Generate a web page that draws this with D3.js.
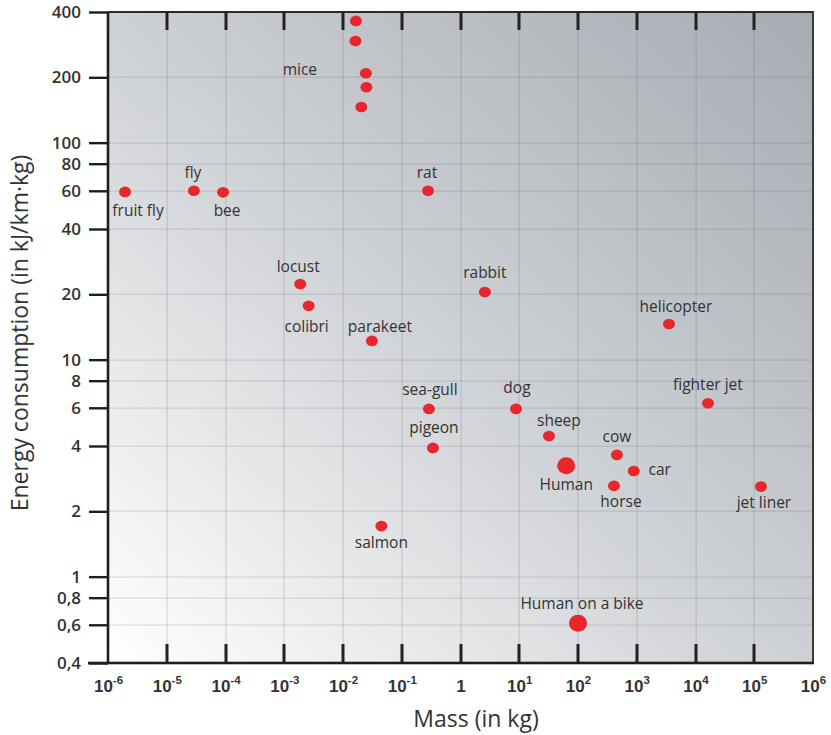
<!DOCTYPE html>
<html>
<head>
<meta charset="utf-8">
<script src="https://cdn.jsdelivr.net/npm/d3@7"></script>
<style>
  html, body { margin: 0; padding: 0; background: #ffffff; }
  svg { display: block; font-family: "Open Sans", "DejaVu Sans", sans-serif; }
</style>
</head>
<body>
<svg id="chart" width="831" height="735"></svg>
<script>
// ---------------- DATA ----------------
const names = [
  "mice", "mice", "mice", "mice", "mice",
  "fruit fly", "fly", "bee", "locust", "colibri", "parakeet",
  "rat", "rabbit", "helicopter", "sea-gull", "pigeon", "dog",
  "sheep", "Human", "cow", "car", "horse", "jet liner",
  "fighter jet", "salmon", "Human on a bike"
];
const massKg = [
  0.0166, 0.0163, 0.0245, 0.0250, 0.0205,
  1.95e-6, 2.9e-5, 9.1e-5, 1.87e-3, 2.6e-3, 0.031,
  0.28, 2.6, 3540, 0.29, 0.34, 8.8,
  32, 63, 460, 890, 410, 1.3e5,
  16300, 0.045, 100
];
const energy = [
  364, 294, 209, 180, 146,
  59.3, 60, 59, 22.3, 17.7, 12.2,
  60, 20.5, 14.6, 5.93, 3.92, 5.93,
  4.45, 3.24, 3.64, 3.07, 2.62, 2.60,
  6.3, 1.71, 0.61
];
const yTickValues = [0.4, 0.6, 0.8, 1, 2, 4, 6, 8, 10, 20, 40, 60, 80, 100, 200, 400];
const xTickValues = [1e-6, 1e-5, 1e-4, 1e-3, 1e-2, 1e-1, 1, 1e1, 1e2, 1e3, 1e4, 1e5, 1e6];
const xExponents = [-6, -5, -4, -3, -2, -1, 0, 1, 2, 3, 4, 5, 6];
const xLabel = "Mass (in kg)";
const yLabel = "Energy consumption (in kJ/km\u00B7kg)";

// ---------------- LAYOUT (not data) ----------------
// label offsets: [point index, dx (center), dy (baseline)]
const labelLayout = [
  [2, -66, 2],
  [5, 13, 24], [6, -1, -13], [7, 4, 24], [8, -2, -12], [9, -2, 26], [10, 8, -9],
  [11, -1, -13], [12, 0, -14], [13, 7, -12], [14, 1, -14], [15, 1, -15], [16, 1, -16],
  [17, 10, -10], [18, 0, 24], [19, 0, -13], [20, 26, 4], [21, 7, 21], [22, 3, 21],
  [23, 0, -13], [24, 0, 22], [25, 4, -14]
];
const bigPoints = new Set(["Human", "Human on a bike"]);

const M = { left: 108, right: 813, top: 12, bottom: 663 };
const svg = d3.select("#chart");

const x = d3.scaleLog().domain([1e-6, 1e6]).range([M.left, M.right]);
const y = d3.scaleLog().domain([0.4, 400]).range([M.bottom, M.top]);

// background gradient
const defs = svg.append("defs");
const grad = defs.append("linearGradient").attr("id", "bg")
  .attr("x1", 0).attr("y1", 1).attr("x2", 1).attr("y2", 0);
grad.append("stop").attr("offset", 0).attr("stop-color", "#ffffff");
grad.append("stop").attr("offset", 0.5).attr("stop-color", "#cdd0d4");
grad.append("stop").attr("offset", 1).attr("stop-color", "#a7acb3");

svg.append("rect")
  .attr("x", M.left).attr("y", M.top)
  .attr("width", M.right - M.left).attr("height", M.bottom - M.top)
  .attr("fill", "url(#bg)");

// grid (horizontal)
svg.append("g").selectAll("rect").data(yTickValues).join("rect")
  .attr("x", M.left).attr("width", M.right - M.left)
  .attr("y", d => Math.round(y(d)) - 0.5).attr("height", 1.2)
  .attr("fill", "rgba(80,85,95,0.17)");
// grid (vertical)
svg.append("g").selectAll("rect").data(xTickValues).join("rect")
  .attr("y", M.top).attr("height", M.bottom - M.top)
  .attr("x", d => Math.round(x(d)) - 0.5).attr("width", 1.2)
  .attr("fill", "rgba(80,85,95,0.2)");

// frame top/right
svg.append("rect").attr("x", M.left).attr("y", M.top - 1).attr("width", M.right - M.left + 1).attr("height", 2)
  .attr("fill", "#2a2a2a");
svg.append("rect").attr("x", M.right - 1).attr("y", M.top - 1).attr("width", 2).attr("height", M.bottom - M.top + 1)
  .attr("fill", "#3a3a3a");

// x tick labels with superscripts
const xl = svg.append("g").attr("transform", `translate(0,${M.bottom})`)
  .call(d3.axisBottom(x).tickValues(xTickValues).tickSize(0).tickFormat(() => ""));
xl.select(".domain").remove();
xl.selectAll(".tick").each(function(d, i) {
  const e = xExponents[i];
  const t = d3.select(this).append("text")
    .attr("y", 29).attr("text-anchor", "middle")
    .attr("fill", "#333").attr("font-size", 17).attr("font-weight", 600);
  if (e === 0) {
    t.text("1");
  } else {
    t.append("tspan").text("10");
    t.append("tspan").attr("dy", -8).attr("font-size", 11.5).text(String(e));
  }
});

// y axis
const yAxis = svg.append("g").attr("transform", `translate(${M.left},0)`)
  .call(d3.axisLeft(y).tickValues(yTickValues).tickSize(19).tickPadding(8)
    .tickFormat(d => String(d).replace(".", ",")));
yAxis.select(".domain").attr("stroke", "#1e1e1e").attr("stroke-width", 2.6)
  .attr("d", `M0,${M.top}V${M.bottom}`);
yAxis.selectAll(".tick line").attr("stroke", "#1e1e1e").attr("stroke-width", 2.4);
yAxis.selectAll(".tick text").attr("fill", "#333").attr("font-size", 17).attr("font-weight", 600)
  .attr("font-family", "'Open Sans', sans-serif");

// bottom axis line
svg.append("rect").attr("x", M.left - 20).attr("y", M.bottom - 1.3).attr("width", M.right - M.left + 21).attr("height", 2.6)
  .attr("fill", "#1e1e1e");

// points
svg.append("g").selectAll("ellipse").data(names).join("ellipse")
  .attr("cx", (d, i) => x(massKg[i]))
  .attr("cy", (d, i) => y(energy[i]))
  .attr("rx", d => bigPoints.has(d) ? 9 : 6)
  .attr("ry", d => bigPoints.has(d) ? 8.5 : 5.3)
  .attr("fill", "#e8262b");

// labels
svg.append("g").selectAll("text").data(labelLayout).join("text")
  .attr("x", d => x(massKg[d[0]]) + d[1])
  .attr("y", d => y(energy[d[0]]) + d[2])
  .attr("text-anchor", "middle")
  .attr("font-size", 15.5)
  .attr("fill", "#333")
  .text(d => names[d[0]]);

// axis titles
svg.append("text").attr("x", 476).attr("y", 727).attr("text-anchor", "middle")
  .attr("font-size", 23).attr("fill", "#333").text(xLabel);
svg.append("text").attr("transform", "translate(28,333) rotate(-90)").attr("text-anchor", "middle")
  .attr("font-size", 23).attr("fill", "#333").text(yLabel);

// inner ticks (top & bottom), positioned by the x scale, drawn last
const innerTicks = xTickValues.slice(1, -1);
const tg = svg.append("g");
innerTicks.forEach(v => {
  const px = Math.round(x(v));
  tg.append("line").attr("x1", px).attr("x2", px).attr("y1", M.top).attr("y2", M.top + 18)
    .attr("stroke", "#222222").attr("stroke-width", 3);
  tg.append("rect").attr("x", px - 1.5).attr("width", 3)
    .attr("y", M.bottom - 19).attr("height", 19)
    .attr("fill", "#222222");
});
</script>
</body>
</html>
